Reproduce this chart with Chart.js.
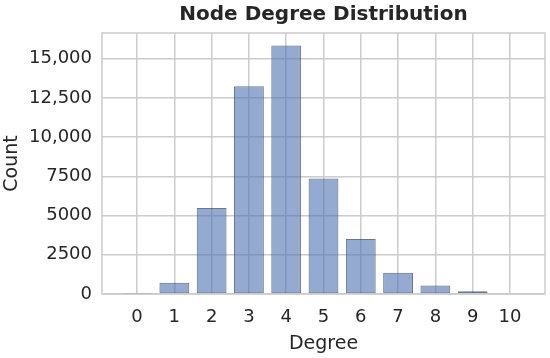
<!DOCTYPE html>
<html lang="en">
<head>
<meta charset="UTF-8">
<title>Node Degree Distribution</title>
<script src="https://cdn.jsdelivr.net/npm/chart.js"></script>
<style>
  html, body { margin: 0; padding: 0; background: #fff; }
  #wrap { width: 550px; height: 358px; }
</style>
</head>
<body>
<div id="wrap"><canvas id="degreeChart" width="550" height="358"></canvas></div>
<script>
// values
const degrees = [0, 1, 2, 3, 4, 5, 6, 7, 8, 9, 10];
const counts = [5, 720, 5490, 13250, 15850, 7370, 3500, 1350, 545, 180, 70];
const yTicks = [0, 2500, 5000, 7500, 10000, 12500, 15000];
const yTickLabels = ['0', '2500', '5000', '7500', '10,000', '12,500', '15,000'];

const textColor = '#262626';
const gridColor = '#cccccc';
const fontFamily = "'DejaVu Sans', sans-serif";

// matplotlib-like margins: 5% around bars of width 0.8
const xMin = degrees[0] - 0.4 - 0.05 * (degrees.length - 1 + 0.8);
const xMax = degrees[degrees.length - 1] + 0.4 + 0.05 * (degrees.length - 1 + 0.8);
const yMax = Math.max(...counts) * 1.05;

// draw the light frame round the plot area (seaborn whitegrid spines)
const frame = {
    id: 'frame',
    afterDraw(chart) {
        const a = chart.chartArea, ctx = chart.ctx;
        ctx.save();
        ctx.strokeStyle = gridColor;
        ctx.lineWidth = 1.5;
        ctx.strokeRect(a.left, a.top, a.right - a.left, a.bottom - a.top);
        ctx.restore();
    }
};

new Chart(document.getElementById('degreeChart'), {
    type: 'bar',
    data: {
        datasets: [{
            data: degrees.map((d, i) => ({ x: d, y: counts[i] })),
            backgroundColor: 'rgba(76, 114, 176, 0.6)',
            borderColor: 'rgba(45, 60, 95, 0.7)',
            borderWidth: 1,
            borderSkipped: false,
            barPercentage: 0.8,
            categoryPercentage: 1.0
        }]
    },
    options: {
        responsive: false,
        animation: false,
        layout: { padding: { left: 1, right: 5, top: 0, bottom: 1 } },
        plugins: {
            legend: { display: false },
            tooltip: { enabled: false },
            title: {
                display: true,
                text: 'Node Degree Distribution',
                fullSize: false,
                color: textColor,
                font: { family: fontFamily, size: 20, weight: 'bold' },
                padding: { top: 3, bottom: 6 }
            }
        },
        scales: {
            x: {
                type: 'linear',
                offset: false,
                min: xMin,
                max: xMax,
                afterBuildTicks: s => { s.ticks = degrees.map(v => ({ value: v })); },
                afterFit: s => { s.height = 63; },
                ticks: { color: textColor, font: { family: fontFamily, size: 18 }, padding: 13, maxRotation: 0, autoSkip: false },
                grid: { offset: false, color: gridColor, lineWidth: 1.5, drawTicks: false },
                border: { display: false },
                title: { display: true, text: 'Degree', color: textColor, font: { family: fontFamily, size: 19 }, padding: { top: 0, bottom: 2 } }
            },
            y: {
                min: 0,
                max: yMax,
                afterBuildTicks: s => { s.ticks = yTicks.map(v => ({ value: v })); },
                afterFit: s => { s.width = 101; },
                ticks: {
                    color: textColor,
                    font: { family: fontFamily, size: 18 },
                    padding: 10,
                    callback: (v) => yTickLabels[yTicks.indexOf(v)]
                },
                grid: { color: gridColor, lineWidth: 1.5, drawTicks: false },
                border: { display: false },
                title: { display: true, text: 'Count', color: textColor, font: { family: fontFamily, size: 19 }, padding: { top: 0, bottom: 0 } }
            }
        }
    },
    plugins: [frame]
});
</script>
</body>
</html>
